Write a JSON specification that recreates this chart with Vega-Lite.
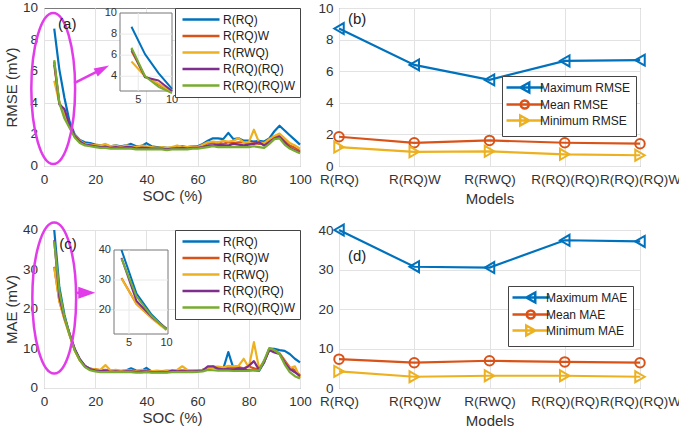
{
  "$schema": "https://vega.github.io/schema/vega-lite/v6.json",
  "padding": {"left": 3, "top": 0, "right": 0, "bottom": 0},
  "datasets": {
    "rmse": [
      {"SOC": 4, "R(RQ)": 8.7, "R(RQ)W": 6.4, "R(RWQ)": 5.4, "R(RQ)(RQ)": 6.6, "R(RQ)(RQ)W": 6.7},
      {"SOC": 6, "R(RQ)": 6.1, "R(RQ)W": 4.0, "R(RWQ)": 4.0, "R(RQ)(RQ)": 3.9, "R(RQ)(RQ)W": 4.0},
      {"SOC": 8, "R(RQ)": 4.3, "R(RQ)W": 3.2, "R(RWQ)": 3.3, "R(RQ)(RQ)": 3.6, "R(RQ)(RQ)W": 3.0},
      {"SOC": 10, "R(RQ)": 2.8, "R(RQ)W": 2.5, "R(RWQ)": 2.5, "R(RQ)(RQ)": 2.6, "R(RQ)(RQ)W": 2.4},
      {"SOC": 12, "R(RQ)": 2.0, "R(RQ)W": 1.9, "R(RWQ)": 1.95, "R(RQ)(RQ)": 1.9, "R(RQ)(RQ)W": 1.8},
      {"SOC": 14, "R(RQ)": 1.65, "R(RQ)W": 1.55, "R(RWQ)": 1.6, "R(RQ)(RQ)": 1.55, "R(RQ)(RQ)W": 1.45},
      {"SOC": 16, "R(RQ)": 1.5, "R(RQ)W": 1.4, "R(RWQ)": 1.4, "R(RQ)(RQ)": 1.35, "R(RQ)(RQ)W": 1.3},
      {"SOC": 18, "R(RQ)": 1.45, "R(RQ)W": 1.3, "R(RWQ)": 1.35, "R(RQ)(RQ)": 1.3, "R(RQ)(RQ)W": 1.25},
      {"SOC": 20, "R(RQ)": 1.35, "R(RQ)W": 1.3, "R(RWQ)": 1.3, "R(RQ)(RQ)": 1.25, "R(RQ)(RQ)W": 1.2},
      {"SOC": 22, "R(RQ)": 1.3, "R(RQ)W": 1.25, "R(RWQ)": 1.3, "R(RQ)(RQ)": 1.2, "R(RQ)(RQ)W": 1.15},
      {"SOC": 24, "R(RQ)": 1.3, "R(RQ)W": 1.35, "R(RWQ)": 1.4, "R(RQ)(RQ)": 1.2, "R(RQ)(RQ)W": 1.15},
      {"SOC": 26, "R(RQ)": 1.25, "R(RQ)W": 1.2, "R(RWQ)": 1.25, "R(RQ)(RQ)": 1.15, "R(RQ)(RQ)W": 1.1},
      {"SOC": 28, "R(RQ)": 1.3, "R(RQ)W": 1.25, "R(RWQ)": 1.3, "R(RQ)(RQ)": 1.2, "R(RQ)(RQ)W": 1.1},
      {"SOC": 30, "R(RQ)": 1.25, "R(RQ)W": 1.2, "R(RWQ)": 1.2, "R(RQ)(RQ)": 1.15, "R(RQ)(RQ)W": 1.1},
      {"SOC": 32, "R(RQ)": 1.3, "R(RQ)W": 1.25, "R(RWQ)": 1.3, "R(RQ)(RQ)": 1.2, "R(RQ)(RQ)W": 1.1},
      {"SOC": 34, "R(RQ)": 1.4, "R(RQ)W": 1.2, "R(RWQ)": 1.25, "R(RQ)(RQ)": 1.2, "R(RQ)(RQ)W": 1.1},
      {"SOC": 36, "R(RQ)": 1.25, "R(RQ)W": 1.15, "R(RWQ)": 1.2, "R(RQ)(RQ)": 1.1, "R(RQ)(RQ)W": 1.05},
      {"SOC": 38, "R(RQ)": 1.25, "R(RQ)W": 1.2, "R(RWQ)": 1.3, "R(RQ)(RQ)": 1.15, "R(RQ)(RQ)W": 1.05},
      {"SOC": 40, "R(RQ)": 1.45, "R(RQ)W": 1.2, "R(RWQ)": 1.25, "R(RQ)(RQ)": 1.15, "R(RQ)(RQ)W": 1.05},
      {"SOC": 42, "R(RQ)": 1.25, "R(RQ)W": 1.15, "R(RWQ)": 1.2, "R(RQ)(RQ)": 1.1, "R(RQ)(RQ)W": 1.05},
      {"SOC": 44, "R(RQ)": 1.2, "R(RQ)W": 1.15, "R(RWQ)": 1.15, "R(RQ)(RQ)": 1.1, "R(RQ)(RQ)W": 1.05},
      {"SOC": 46, "R(RQ)": 1.2, "R(RQ)W": 1.1, "R(RWQ)": 1.2, "R(RQ)(RQ)": 1.1, "R(RQ)(RQ)W": 1.05},
      {"SOC": 48, "R(RQ)": 1.15, "R(RQ)W": 1.1, "R(RWQ)": 1.15, "R(RQ)(RQ)": 1.05, "R(RQ)(RQ)W": 1.0},
      {"SOC": 50, "R(RQ)": 1.15, "R(RQ)W": 1.15, "R(RWQ)": 1.2, "R(RQ)(RQ)": 1.1, "R(RQ)(RQ)W": 1.05},
      {"SOC": 52, "R(RQ)": 1.2, "R(RQ)W": 1.2, "R(RWQ)": 1.3, "R(RQ)(RQ)": 1.1, "R(RQ)(RQ)W": 1.05},
      {"SOC": 54, "R(RQ)": 1.25, "R(RQ)W": 1.2, "R(RWQ)": 1.2, "R(RQ)(RQ)": 1.15, "R(RQ)(RQ)W": 1.05},
      {"SOC": 56, "R(RQ)": 1.2, "R(RQ)W": 1.15, "R(RWQ)": 1.2, "R(RQ)(RQ)": 1.1, "R(RQ)(RQ)W": 1.05},
      {"SOC": 58, "R(RQ)": 1.25, "R(RQ)W": 1.2, "R(RWQ)": 1.25, "R(RQ)(RQ)": 1.15, "R(RQ)(RQ)W": 1.1},
      {"SOC": 60, "R(RQ)": 1.25, "R(RQ)W": 1.2, "R(RWQ)": 1.2, "R(RQ)(RQ)": 1.15, "R(RQ)(RQ)W": 1.1},
      {"SOC": 62, "R(RQ)": 1.4, "R(RQ)W": 1.3, "R(RWQ)": 1.35, "R(RQ)(RQ)": 1.2, "R(RQ)(RQ)W": 1.15},
      {"SOC": 64, "R(RQ)": 1.6, "R(RQ)W": 1.45, "R(RWQ)": 1.5, "R(RQ)(RQ)": 1.3, "R(RQ)(RQ)W": 1.2},
      {"SOC": 66, "R(RQ)": 1.75, "R(RQ)W": 1.45, "R(RWQ)": 1.55, "R(RQ)(RQ)": 1.3, "R(RQ)(RQ)W": 1.25},
      {"SOC": 68, "R(RQ)": 1.75, "R(RQ)W": 1.5, "R(RWQ)": 1.5, "R(RQ)(RQ)": 1.35, "R(RQ)(RQ)W": 1.2},
      {"SOC": 70, "R(RQ)": 1.7, "R(RQ)W": 1.4, "R(RWQ)": 1.6, "R(RQ)(RQ)": 1.3, "R(RQ)(RQ)W": 1.2},
      {"SOC": 72, "R(RQ)": 2.1, "R(RQ)W": 1.5, "R(RWQ)": 1.55, "R(RQ)(RQ)": 1.3, "R(RQ)(RQ)W": 1.2},
      {"SOC": 74, "R(RQ)": 1.7, "R(RQ)W": 1.45, "R(RWQ)": 1.6, "R(RQ)(RQ)": 1.4, "R(RQ)(RQ)W": 1.2},
      {"SOC": 76, "R(RQ)": 1.75, "R(RQ)W": 1.5, "R(RWQ)": 1.75, "R(RQ)(RQ)": 1.35, "R(RQ)(RQ)W": 1.2},
      {"SOC": 78, "R(RQ)": 1.6, "R(RQ)W": 1.5, "R(RWQ)": 1.5, "R(RQ)(RQ)": 1.3, "R(RQ)(RQ)W": 1.2},
      {"SOC": 80, "R(RQ)": 1.6, "R(RQ)W": 1.4, "R(RWQ)": 1.5, "R(RQ)(RQ)": 1.35, "R(RQ)(RQ)W": 1.2},
      {"SOC": 82, "R(RQ)": 1.55, "R(RQ)W": 1.45, "R(RWQ)": 2.3, "R(RQ)(RQ)": 1.4, "R(RQ)(RQ)W": 1.25},
      {"SOC": 84, "R(RQ)": 1.6, "R(RQ)W": 1.4, "R(RWQ)": 1.5, "R(RQ)(RQ)": 1.5, "R(RQ)(RQ)W": 1.2},
      {"SOC": 86, "R(RQ)": 1.55, "R(RQ)W": 1.45, "R(RWQ)": 1.45, "R(RQ)(RQ)": 1.3, "R(RQ)(RQ)W": 1.15},
      {"SOC": 88, "R(RQ)": 1.75, "R(RQ)W": 1.6, "R(RWQ)": 1.7, "R(RQ)(RQ)": 1.5, "R(RQ)(RQ)W": 1.4},
      {"SOC": 90, "R(RQ)": 2.2, "R(RQ)W": 1.85, "R(RWQ)": 1.9, "R(RQ)(RQ)": 1.75, "R(RQ)(RQ)W": 1.7},
      {"SOC": 92, "R(RQ)": 2.55, "R(RQ)W": 1.95, "R(RWQ)": 2.05, "R(RQ)(RQ)": 1.85, "R(RQ)(RQ)W": 1.75},
      {"SOC": 94, "R(RQ)": 2.25, "R(RQ)W": 1.6, "R(RWQ)": 1.75, "R(RQ)(RQ)": 1.5, "R(RQ)(RQ)W": 1.35},
      {"SOC": 96, "R(RQ)": 1.95, "R(RQ)W": 1.3, "R(RWQ)": 1.45, "R(RQ)(RQ)": 1.15, "R(RQ)(RQ)W": 1.1},
      {"SOC": 98, "R(RQ)": 1.65, "R(RQ)W": 1.15, "R(RWQ)": 1.3, "R(RQ)(RQ)": 1.0, "R(RQ)(RQ)W": 0.95},
      {"SOC": 100, "R(RQ)": 1.35, "R(RQ)W": 0.95, "R(RWQ)": 1.1, "R(RQ)(RQ)": 0.85, "R(RQ)(RQ)W": 0.8}
    ],
    "mae": [
      {"SOC": 4, "R(RQ)": 40, "R(RQ)W": 30.7, "R(RWQ)": 30.5, "R(RQ)(RQ)": 37.4, "R(RQ)(RQ)W": 37.1},
      {"SOC": 6, "R(RQ)": 25.5, "R(RQ)W": 22, "R(RWQ)": 22, "R(RQ)(RQ)": 23, "R(RQ)(RQ)W": 24.5},
      {"SOC": 8, "R(RQ)": 18.5, "R(RQ)W": 17.5, "R(RWQ)": 17.3, "R(RQ)(RQ)": 17.8, "R(RQ)(RQ)W": 18},
      {"SOC": 10, "R(RQ)": 13.5, "R(RQ)W": 13.5, "R(RWQ)": 13.3, "R(RQ)(RQ)": 13.8, "R(RQ)(RQ)W": 13.5},
      {"SOC": 12, "R(RQ)": 9.8, "R(RQ)W": 9.6, "R(RWQ)": 9.5, "R(RQ)(RQ)": 9.9, "R(RQ)(RQ)W": 9.5},
      {"SOC": 14, "R(RQ)": 7.2, "R(RQ)W": 7.0, "R(RWQ)": 7.0, "R(RQ)(RQ)": 7.3, "R(RQ)(RQ)W": 7.0},
      {"SOC": 16, "R(RQ)": 5.6, "R(RQ)W": 5.4, "R(RWQ)": 5.5, "R(RQ)(RQ)": 5.6, "R(RQ)(RQ)W": 5.3},
      {"SOC": 18, "R(RQ)": 4.9, "R(RQ)W": 4.8, "R(RWQ)": 4.9, "R(RQ)(RQ)": 4.8, "R(RQ)(RQ)W": 4.5},
      {"SOC": 20, "R(RQ)": 4.6, "R(RQ)W": 4.8, "R(RWQ)": 4.7, "R(RQ)(RQ)": 4.5, "R(RQ)(RQ)W": 4.2},
      {"SOC": 22, "R(RQ)": 4.4, "R(RQ)W": 4.5, "R(RWQ)": 4.6, "R(RQ)(RQ)": 4.3, "R(RQ)(RQ)W": 4.0},
      {"SOC": 24, "R(RQ)": 4.4, "R(RQ)W": 4.6, "R(RWQ)": 5.8, "R(RQ)(RQ)": 4.3, "R(RQ)(RQ)W": 4.0},
      {"SOC": 26, "R(RQ)": 4.3, "R(RQ)W": 4.4, "R(RWQ)": 4.4, "R(RQ)(RQ)": 4.1, "R(RQ)(RQ)W": 4.0},
      {"SOC": 28, "R(RQ)": 4.3, "R(RQ)W": 4.5, "R(RWQ)": 4.6, "R(RQ)(RQ)": 4.2, "R(RQ)(RQ)W": 4.0},
      {"SOC": 30, "R(RQ)": 4.3, "R(RQ)W": 4.2, "R(RWQ)": 4.4, "R(RQ)(RQ)": 4.1, "R(RQ)(RQ)W": 4.0},
      {"SOC": 32, "R(RQ)": 4.4, "R(RQ)W": 4.4, "R(RWQ)": 4.5, "R(RQ)(RQ)": 4.2, "R(RQ)(RQ)W": 4.0},
      {"SOC": 34, "R(RQ)": 5.0, "R(RQ)W": 4.3, "R(RWQ)": 4.4, "R(RQ)(RQ)": 4.2, "R(RQ)(RQ)W": 4.0},
      {"SOC": 36, "R(RQ)": 4.4, "R(RQ)W": 4.3, "R(RWQ)": 4.3, "R(RQ)(RQ)": 4.1, "R(RQ)(RQ)W": 3.9},
      {"SOC": 38, "R(RQ)": 4.3, "R(RQ)W": 4.4, "R(RWQ)": 4.6, "R(RQ)(RQ)": 4.2, "R(RQ)(RQ)W": 3.9},
      {"SOC": 40, "R(RQ)": 5.1, "R(RQ)W": 4.4, "R(RWQ)": 4.3, "R(RQ)(RQ)": 4.2, "R(RQ)(RQ)W": 4.0},
      {"SOC": 42, "R(RQ)": 4.2, "R(RQ)W": 4.2, "R(RWQ)": 4.2, "R(RQ)(RQ)": 4.0, "R(RQ)(RQ)W": 3.9},
      {"SOC": 44, "R(RQ)": 4.1, "R(RQ)W": 4.3, "R(RWQ)": 4.4, "R(RQ)(RQ)": 4.0, "R(RQ)(RQ)W": 3.9},
      {"SOC": 46, "R(RQ)": 4.2, "R(RQ)W": 4.1, "R(RWQ)": 4.3, "R(RQ)(RQ)": 4.1, "R(RQ)(RQ)W": 3.9},
      {"SOC": 48, "R(RQ)": 4.1, "R(RQ)W": 4.2, "R(RWQ)": 4.5, "R(RQ)(RQ)": 4.0, "R(RQ)(RQ)W": 3.9},
      {"SOC": 50, "R(RQ)": 4.2, "R(RQ)W": 4.3, "R(RWQ)": 4.4, "R(RQ)(RQ)": 4.4, "R(RQ)(RQ)W": 4.0},
      {"SOC": 52, "R(RQ)": 4.3, "R(RQ)W": 4.4, "R(RWQ)": 4.6, "R(RQ)(RQ)": 4.2, "R(RQ)(RQ)W": 4.0},
      {"SOC": 54, "R(RQ)": 4.3, "R(RQ)W": 4.5, "R(RWQ)": 5.5, "R(RQ)(RQ)": 4.2, "R(RQ)(RQ)W": 4.0},
      {"SOC": 56, "R(RQ)": 4.3, "R(RQ)W": 4.4, "R(RWQ)": 4.6, "R(RQ)(RQ)": 4.2, "R(RQ)(RQ)W": 4.0},
      {"SOC": 58, "R(RQ)": 4.3, "R(RQ)W": 4.4, "R(RWQ)": 4.5, "R(RQ)(RQ)": 4.2, "R(RQ)(RQ)W": 4.0},
      {"SOC": 60, "R(RQ)": 4.4, "R(RQ)W": 4.4, "R(RWQ)": 4.4, "R(RQ)(RQ)": 4.3, "R(RQ)(RQ)W": 4.1},
      {"SOC": 62, "R(RQ)": 4.6, "R(RQ)W": 4.6, "R(RWQ)": 4.6, "R(RQ)(RQ)": 4.4, "R(RQ)(RQ)W": 4.2},
      {"SOC": 64, "R(RQ)": 5.1, "R(RQ)W": 5.0, "R(RWQ)": 5.0, "R(RQ)(RQ)": 5.5, "R(RQ)(RQ)W": 4.6},
      {"SOC": 66, "R(RQ)": 5.2, "R(RQ)W": 5.4, "R(RWQ)": 5.1, "R(RQ)(RQ)": 5.5, "R(RQ)(RQ)W": 4.5},
      {"SOC": 68, "R(RQ)": 4.9, "R(RQ)W": 5.3, "R(RWQ)": 5.4, "R(RQ)(RQ)": 4.9, "R(RQ)(RQ)W": 4.4},
      {"SOC": 70, "R(RQ)": 4.8, "R(RQ)W": 5.0, "R(RWQ)": 5.2, "R(RQ)(RQ)": 4.7, "R(RQ)(RQ)W": 4.4},
      {"SOC": 72, "R(RQ)": 9.1, "R(RQ)W": 5.2, "R(RWQ)": 5.6, "R(RQ)(RQ)": 4.8, "R(RQ)(RQ)W": 4.4},
      {"SOC": 74, "R(RQ)": 5.0, "R(RQ)W": 5.0, "R(RWQ)": 5.5, "R(RQ)(RQ)": 4.6, "R(RQ)(RQ)W": 4.3},
      {"SOC": 76, "R(RQ)": 4.8, "R(RQ)W": 5.3, "R(RWQ)": 5.6, "R(RQ)(RQ)": 5.0, "R(RQ)(RQ)W": 4.3},
      {"SOC": 78, "R(RQ)": 4.6, "R(RQ)W": 5.0, "R(RWQ)": 7.4, "R(RQ)(RQ)": 4.8, "R(RQ)(RQ)W": 4.3},
      {"SOC": 80, "R(RQ)": 4.5, "R(RQ)W": 5.4, "R(RWQ)": 5.2, "R(RQ)(RQ)": 5.6, "R(RQ)(RQ)W": 4.3},
      {"SOC": 82, "R(RQ)": 4.5, "R(RQ)W": 5.0, "R(RWQ)": 11.6, "R(RQ)(RQ)": 6.8, "R(RQ)(RQ)W": 4.5},
      {"SOC": 84, "R(RQ)": 4.3, "R(RQ)W": 4.6, "R(RWQ)": 5.0, "R(RQ)(RQ)": 4.6, "R(RQ)(RQ)W": 4.4},
      {"SOC": 86, "R(RQ)": 6.5, "R(RQ)W": 6.8, "R(RWQ)": 6.7, "R(RQ)(RQ)": 6.6, "R(RQ)(RQ)W": 7.0},
      {"SOC": 88, "R(RQ)": 10.0, "R(RQ)W": 9.6, "R(RWQ)": 9.8, "R(RQ)(RQ)": 9.6, "R(RQ)(RQ)W": 10.1},
      {"SOC": 90, "R(RQ)": 9.9, "R(RQ)W": 9.5, "R(RWQ)": 9.5, "R(RQ)(RQ)": 9.0, "R(RQ)(RQ)W": 9.6},
      {"SOC": 92, "R(RQ)": 9.6, "R(RQ)W": 8.8, "R(RWQ)": 8.7, "R(RQ)(RQ)": 8.6, "R(RQ)(RQ)W": 8.6},
      {"SOC": 94, "R(RQ)": 9.4, "R(RQ)W": 7.0, "R(RWQ)": 6.5, "R(RQ)(RQ)": 6.5, "R(RQ)(RQ)W": 6.0},
      {"SOC": 96, "R(RQ)": 8.6, "R(RQ)W": 5.2, "R(RWQ)": 5.0, "R(RQ)(RQ)": 4.8, "R(RQ)(RQ)W": 4.0},
      {"SOC": 98, "R(RQ)": 7.4, "R(RQ)W": 4.5, "R(RWQ)": 5.5, "R(RQ)(RQ)": 4.0, "R(RQ)(RQ)W": 3.0},
      {"SOC": 100, "R(RQ)": 6.5, "R(RQ)W": 3.2, "R(RWQ)": 2.6, "R(RQ)(RQ)": 3.0, "R(RQ)(RQ)W": 2.4}
    ],
    "rmseStats": [
      {"model": "R(RQ)", "stat": "Maximum RMSE", "value": 8.7},
      {"model": "R(RQ)W", "stat": "Maximum RMSE", "value": 6.4},
      {"model": "R(RWQ)", "stat": "Maximum RMSE", "value": 5.45},
      {"model": "R(RQ)(RQ)", "stat": "Maximum RMSE", "value": 6.65},
      {"model": "R(RQ)(RQ)W", "stat": "Maximum RMSE", "value": 6.7},
      {"model": "R(RQ)", "stat": "Mean RMSE", "value": 1.85},
      {"model": "R(RQ)W", "stat": "Mean RMSE", "value": 1.47},
      {"model": "R(RWQ)", "stat": "Mean RMSE", "value": 1.62},
      {"model": "R(RQ)(RQ)", "stat": "Mean RMSE", "value": 1.47},
      {"model": "R(RQ)(RQ)W", "stat": "Mean RMSE", "value": 1.41},
      {"model": "R(RQ)", "stat": "Minimum RMSE", "value": 1.2},
      {"model": "R(RQ)W", "stat": "Minimum RMSE", "value": 0.9},
      {"model": "R(RWQ)", "stat": "Minimum RMSE", "value": 0.93},
      {"model": "R(RQ)(RQ)", "stat": "Minimum RMSE", "value": 0.74},
      {"model": "R(RQ)(RQ)W", "stat": "Minimum RMSE", "value": 0.68}
    ],
    "maeStats": [
      {"model": "R(RQ)", "stat": "Maximum MAE", "value": 40},
      {"model": "R(RQ)W", "stat": "Maximum MAE", "value": 30.7},
      {"model": "R(RWQ)", "stat": "Maximum MAE", "value": 30.5},
      {"model": "R(RQ)(RQ)", "stat": "Maximum MAE", "value": 37.4},
      {"model": "R(RQ)(RQ)W", "stat": "Maximum MAE", "value": 37.1},
      {"model": "R(RQ)", "stat": "Mean MAE", "value": 7.3},
      {"model": "R(RQ)W", "stat": "Mean MAE", "value": 6.4},
      {"model": "R(RWQ)", "stat": "Mean MAE", "value": 6.9},
      {"model": "R(RQ)(RQ)", "stat": "Mean MAE", "value": 6.6},
      {"model": "R(RQ)(RQ)W", "stat": "Mean MAE", "value": 6.4},
      {"model": "R(RQ)", "stat": "Minimum MAE", "value": 4.2},
      {"model": "R(RQ)W", "stat": "Minimum MAE", "value": 2.85},
      {"model": "R(RWQ)", "stat": "Minimum MAE", "value": 3.1},
      {"model": "R(RQ)(RQ)", "stat": "Minimum MAE", "value": 3.1},
      {"model": "R(RQ)(RQ)W", "stat": "Minimum MAE", "value": 2.85}
    ]
  },
  "columns": 2,
  "spacing": {"row": 64, "column": 39},
  "bounds": "flush",
  "resolve": {"scale": {"color": "independent", "shape": "independent"}, "legend": {"color": "independent", "shape": "independent"}},
  "concat": [
    {
      "width": 256,
      "height": 158,
      "resolve": {"scale": {"x": "independent", "y": "independent"}, "axis": {"x": "independent", "y": "independent"}},
      "layer": [
        {
          "layer": [
            {
              "data": {"name": "rmse"},
              "transform": [{"fold": ["R(RQ)", "R(RQ)W", "R(RWQ)", "R(RQ)(RQ)", "R(RQ)(RQ)W"], "as": ["model", "RMSE"]}],
              "mark": {"type": "line", "strokeWidth": 2.2, "strokeJoin": "round"},
              "encoding": {
                "x": {"field": "SOC", "type": "quantitative", "scale": {"domain": [0, 100], "nice": false}, "axis": {"title": "SOC (%)", "values": [0, 20, 40, 60, 80, 100], "grid": true}},
                "y": {"field": "RMSE", "type": "quantitative", "scale": {"domain": [0, 10], "nice": false}, "axis": {"title": "RMSE (mV)", "values": [0, 2, 4, 6, 8, 10], "grid": true, "labels": false, "titlePadding": 25}},
                "color": {
                  "field": "model", "type": "nominal",
                  "scale": {"domain": ["R(RQ)", "R(RQ)W", "R(RWQ)", "R(RQ)(RQ)", "R(RQ)(RQ)W"], "range": ["#0072BD", "#D95319", "#EDB120", "#7E2F8E", "#77AC30"]},
                  "legend": {"title": null, "orient": "top-right", "offset": 0, "symbolType": "M-0.8,0L6.6,0"}
                }
              }
            },
            {
              "data": {"values": [{"tick": 0}, {"tick": 2}, {"tick": 4}, {"tick": 6}, {"tick": 8}, {"tick": 10}]},
              "mark": {"type": "text", "fontSize": 13.5, "fill": "#333", "align": "right", "baseline": "middle", "dx": -6},
              "encoding": {"x": {"datum": 0, "type": "quantitative"}, "y": {"field": "tick", "type": "quantitative"}, "text": {"field": "tick"}}
            },
            {
              "data": {"values": [{"SOC": 3.6, "RMSE": 4.9}]},
              "mark": {"type": "point", "shape": "M0,-1C0.16,-1,0.29,-0.552,0.29,0C0.29,0.552,0.16,1,0,1C-0.16,1,-0.29,0.552,-0.29,0C-0.29,-0.552,-0.16,-1,0,-1Z", "size": 22801, "filled": false, "stroke": "#E23BEA", "strokeWidth": 2.5, "opacity": 1},
              "encoding": {"x": {"field": "SOC", "type": "quantitative"}, "y": {"field": "RMSE", "type": "quantitative"}}
            },
            {
              "data": {"values": [{"SOC": 11.8, "RMSE": 5.25, "SOC2": 22.8, "RMSE2": 6.14}]},
              "mark": {"type": "rule", "stroke": "#E23BEA", "strokeWidth": 2.5},
              "encoding": {"x": {"field": "SOC", "type": "quantitative"}, "y": {"field": "RMSE", "type": "quantitative"}, "x2": {"field": "SOC2"}, "y2": {"field": "RMSE2"}}
            },
            {
              "data": {"values": [{"SOC": 22.8, "RMSE": 6.14}]},
              "mark": {"type": "point", "shape": "M1,0L-1,-0.6L-1,0.6Z", "size": 225, "filled": true, "fill": "#E23BEA", "strokeWidth": 0, "angle": -27, "opacity": 1},
              "encoding": {"x": {"field": "SOC", "type": "quantitative"}, "y": {"field": "RMSE", "type": "quantitative"}}
            },
            {
              "data": {"values": [{"SOC": 9.1, "RMSE": 9.0, "tag": "(a)"}]},
              "mark": {"type": "text", "fontSize": 15, "fill": "#222"},
              "encoding": {"x": {"field": "SOC", "type": "quantitative"}, "y": {"field": "RMSE", "type": "quantitative"}, "text": {"field": "tag"}}
            }
          ]
        },
        {
          "layer": [
            {
              "data": {"values": [{"x1": 2.3, "x2": 10, "y1": 2.6, "y2": 10}]},
              "mark": {"type": "rect", "fill": "white", "stroke": "#777", "strokeWidth": 1},
              "encoding": {
                "x": {"field": "x1", "type": "quantitative", "scale": {"domain": [2.3, 10], "range": [76, 128], "nice": false, "zero": false}, "axis": null},
                "x2": {"field": "x2"},
                "y": {"field": "y1", "type": "quantitative", "scale": {"domain": [2.6, 10], "range": [83, 5], "nice": false, "zero": false}, "axis": null},
                "y2": {"field": "y2"}
              }
            },
            {
              "data": {"values": [{"x1": 5, "y1": 2.6, "x2": 5, "y2": 10}, {"x1": 2.3, "y1": 4, "x2": 10, "y2": 4}, {"x1": 2.3, "y1": 6, "x2": 10, "y2": 6}, {"x1": 2.3, "y1": 8, "x2": 10, "y2": 8}]},
              "mark": {"type": "rule", "stroke": "#e8e8e8", "strokeWidth": 1},
              "encoding": {"x": {"field": "x1", "type": "quantitative"}, "y": {"field": "y1", "type": "quantitative"}, "x2": {"field": "x2"}, "y2": {"field": "y2"}}
            },
            {
              "data": {"name": "rmse"},
              "transform": [{"filter": "datum.SOC <= 10"}, {"fold": ["R(RQ)", "R(RQ)W", "R(RWQ)", "R(RQ)(RQ)", "R(RQ)(RQ)W"], "as": ["model", "RMSE"]}],
              "mark": {"type": "line", "strokeWidth": 2, "strokeJoin": "round"},
              "encoding": {
                "x": {"field": "SOC", "type": "quantitative"},
                "y": {"field": "RMSE", "type": "quantitative"},
                "color": {"field": "model", "type": "nominal"}
              }
            },
            {
              "data": {"values": [{"v": 4}, {"v": 6}, {"v": 8}, {"v": 10}]},
              "mark": {"type": "text", "fontSize": 11, "fill": "#333", "align": "right", "baseline": "middle", "dx": -3},
              "encoding": {"x": {"datum": 2.3, "type": "quantitative"}, "y": {"field": "v", "type": "quantitative"}, "text": {"field": "v"}}
            },
            {
              "data": {"values": [{"s": 5}, {"s": 10}]},
              "mark": {"type": "text", "fontSize": 11, "fill": "#333", "align": "center", "baseline": "top", "dy": 3},
              "encoding": {"x": {"field": "s", "type": "quantitative"}, "y": {"datum": 2.6, "type": "quantitative"}, "text": {"field": "s"}}
            }
          ]
        }
      ]
    },
    {
      "width": 301,
      "height": 158,
      "data": {"name": "rmseStats"},
      "encoding": {
        "x": {"field": "model", "type": "nominal", "sort": null, "scale": {"type": "point", "padding": 0, "domain": ["R(RQ)", "R(RQ)W", "R(RWQ)", "R(RQ)(RQ)", "R(RQ)(RQ)W"]}, "axis": {"title": "Models", "labelAngle": 0, "grid": true, "labelBound": false, "labelOverlap": false, "titlePadding": 6}},
        "y": {"field": "value", "type": "quantitative", "scale": {"domain": [0, 10], "nice": false}, "axis": {"title": null, "values": [0, 2, 4, 6, 8, 10], "grid": true, "labelOverlap": false}}
      },
      "layer": [
        {
          "mark": {"type": "line", "strokeWidth": 2.2},
          "encoding": {
            "color": {
              "field": "stat", "type": "nominal",
              "scale": {"domain": ["Maximum RMSE", "Mean RMSE", "Minimum RMSE"], "range": ["#0072BD", "#D95319", "#EDB120"]},
              "legend": {"title": null, "orient": "none", "legendX": 163, "legendY": 68, "rowPadding": -4, "labelOffset": 20}
            }
          }
        },
        {
          "transform": [{"filter": "datum.stat == 'Maximum RMSE'"}],
          "mark": {"type": "point", "shape": "triangle-left", "filled": false, "strokeWidth": 2, "opacity": 1, "size": 120},
          "encoding": {"color": {"field": "stat", "type": "nominal"}}
        },
        {
          "transform": [{"filter": "datum.stat == 'Mean RMSE'"}],
          "mark": {"type": "point", "shape": "circle", "filled": false, "strokeWidth": 2, "opacity": 1, "size": 90},
          "encoding": {"color": {"field": "stat", "type": "nominal"}}
        },
        {
          "transform": [{"filter": "datum.stat == 'Minimum RMSE'"}],
          "mark": {"type": "point", "shape": "triangle-right", "filled": false, "strokeWidth": 2, "opacity": 1, "size": 120},
          "encoding": {"color": {"field": "stat", "type": "nominal"}}
        },
        {
          "mark": {"type": "point", "filled": false, "opacity": 0},
          "encoding": {
            "color": {"field": "stat", "type": "nominal"},
            "shape": {"field": "stat", "type": "nominal", "scale": {"domain": ["Maximum RMSE", "Mean RMSE", "Minimum RMSE"], "range": ["M-1.4,0L5.9,0M1.35,0L3.15,-1L3.15,1Z", "M-1.4,0L5.9,0M3.05,0C3.05,0.44,2.69,0.8,2.25,0.8C1.81,0.8,1.45,0.44,1.45,0C1.45,-0.44,1.81,-0.8,2.25,-0.8C2.69,-0.8,3.05,-0.44,3.05,0Z", "M-1.4,0L5.9,0M3.15,0L1.35,-1L1.35,1Z"]}}
          }
        },
        {
          "data": {"values": [{"model": "R(RQ)", "value": 9.3, "tag": "(b)"}]},
          "mark": {"type": "text", "fontSize": 15, "fill": "#222", "align": "left", "dx": 9},
          "encoding": {"text": {"field": "tag"}}
        }
      ]
    },
    {
      "width": 256,
      "height": 158,
      "resolve": {"scale": {"x": "independent", "y": "independent"}, "axis": {"x": "independent", "y": "independent"}},
      "layer": [
        {
          "layer": [
            {
              "data": {"name": "mae"},
              "transform": [{"fold": ["R(RQ)", "R(RQ)W", "R(RWQ)", "R(RQ)(RQ)", "R(RQ)(RQ)W"], "as": ["model", "MAE"]}],
              "mark": {"type": "line", "strokeWidth": 2.2, "strokeJoin": "round"},
              "encoding": {
                "x": {"field": "SOC", "type": "quantitative", "scale": {"domain": [0, 100], "nice": false}, "axis": {"title": "SOC (%)", "values": [0, 20, 40, 60, 80, 100], "grid": true}},
                "y": {"field": "MAE", "type": "quantitative", "scale": {"domain": [0, 40], "nice": false}, "axis": {"title": "MAE (mV)", "values": [0, 10, 20, 30, 40], "grid": true, "labels": false, "titlePadding": 25}},
                "color": {
                  "field": "model", "type": "nominal",
                  "scale": {"domain": ["R(RQ)", "R(RQ)W", "R(RWQ)", "R(RQ)(RQ)", "R(RQ)(RQ)W"], "range": ["#0072BD", "#D95319", "#EDB120", "#7E2F8E", "#77AC30"]},
                  "legend": {"title": null, "orient": "top-right", "offset": 0, "symbolType": "M-0.8,0L6.6,0"}
                }
              }
            },
            {
              "data": {"values": [{"tick": 0}, {"tick": 10}, {"tick": 20}, {"tick": 30}, {"tick": 40}]},
              "mark": {"type": "text", "fontSize": 13.5, "fill": "#333", "align": "right", "baseline": "middle", "dx": -6},
              "encoding": {"x": {"datum": 0, "type": "quantitative"}, "y": {"field": "tick", "type": "quantitative"}, "text": {"field": "tick"}}
            },
            {
              "data": {"values": [{"SOC": 4.0, "MAE": 22.8}]},
              "mark": {"type": "point", "shape": "M0,-1C0.16,-1,0.29,-0.552,0.29,0C0.29,0.552,0.16,1,0,1C-0.16,1,-0.29,0.552,-0.29,0C-0.29,-0.552,-0.16,-1,0,-1Z", "size": 22801, "filled": false, "stroke": "#E23BEA", "strokeWidth": 2.5, "opacity": 1},
              "encoding": {"x": {"field": "SOC", "type": "quantitative"}, "y": {"field": "MAE", "type": "quantitative"}}
            },
            {
              "data": {"values": [{"SOC": 12.2, "MAE": 24.1, "SOC2": 16.7, "MAE2": 24.1}]},
              "mark": {"type": "rule", "stroke": "#E23BEA", "strokeWidth": 2.5},
              "encoding": {"x": {"field": "SOC", "type": "quantitative"}, "y": {"field": "MAE", "type": "quantitative"}, "x2": {"field": "SOC2"}, "y2": {"field": "MAE2"}}
            },
            {
              "data": {"values": [{"SOC": 16.7, "MAE": 24.1}]},
              "mark": {"type": "point", "shape": "M1,0L-1,-0.7L-1,0.7Z", "size": 289, "filled": true, "fill": "#E23BEA", "strokeWidth": 0, "opacity": 1},
              "encoding": {"x": {"field": "SOC", "type": "quantitative"}, "y": {"field": "MAE", "type": "quantitative"}}
            },
            {
              "data": {"values": [{"SOC": 9.4, "MAE": 36.5, "tag": "(c)"}]},
              "mark": {"type": "text", "fontSize": 15, "fill": "#222"},
              "encoding": {"x": {"field": "SOC", "type": "quantitative"}, "y": {"field": "MAE", "type": "quantitative"}, "text": {"field": "tag"}}
            }
          ]
        },
        {
          "layer": [
            {
              "data": {"values": [{"x1": 3, "x2": 10.2, "y1": 12, "y2": 40}]},
              "mark": {"type": "rect", "fill": "white", "stroke": "#777", "strokeWidth": 1},
              "encoding": {
                "x": {"field": "x1", "type": "quantitative", "scale": {"domain": [3, 10.2], "range": [70, 124], "nice": false, "zero": false}, "axis": null},
                "x2": {"field": "x2"},
                "y": {"field": "y1", "type": "quantitative", "scale": {"domain": [12, 40], "range": [104, 20], "nice": false, "zero": false}, "axis": null},
                "y2": {"field": "y2"}
              }
            },
            {
              "data": {"values": [{"x1": 5, "y1": 12, "x2": 5, "y2": 40}, {"x1": 3, "y1": 20, "x2": 10.2, "y2": 20}, {"x1": 3, "y1": 30, "x2": 10.2, "y2": 30}]},
              "mark": {"type": "rule", "stroke": "#e8e8e8", "strokeWidth": 1},
              "encoding": {"x": {"field": "x1", "type": "quantitative"}, "y": {"field": "y1", "type": "quantitative"}, "x2": {"field": "x2"}, "y2": {"field": "y2"}}
            },
            {
              "data": {"name": "mae"},
              "transform": [{"filter": "datum.SOC <= 10"}, {"fold": ["R(RQ)", "R(RQ)W", "R(RWQ)", "R(RQ)(RQ)", "R(RQ)(RQ)W"], "as": ["model", "MAE"]}],
              "mark": {"type": "line", "strokeWidth": 2, "strokeJoin": "round"},
              "encoding": {
                "x": {"field": "SOC", "type": "quantitative"},
                "y": {"field": "MAE", "type": "quantitative"},
                "color": {"field": "model", "type": "nominal"}
              }
            },
            {
              "data": {"values": [{"v": 20}, {"v": 30}, {"v": 40}]},
              "mark": {"type": "text", "fontSize": 11, "fill": "#333", "align": "right", "baseline": "middle", "dx": -3},
              "encoding": {"x": {"datum": 3, "type": "quantitative"}, "y": {"field": "v", "type": "quantitative"}, "text": {"field": "v"}}
            },
            {
              "data": {"values": [{"s": 5}, {"s": 10}]},
              "mark": {"type": "text", "fontSize": 11, "fill": "#333", "align": "center", "baseline": "top", "dy": 3},
              "encoding": {"x": {"field": "s", "type": "quantitative"}, "y": {"datum": 12, "type": "quantitative"}, "text": {"field": "s"}}
            }
          ]
        }
      ]
    },
    {
      "width": 301,
      "height": 158,
      "data": {"name": "maeStats"},
      "encoding": {
        "x": {"field": "model", "type": "nominal", "sort": null, "scale": {"type": "point", "padding": 0, "domain": ["R(RQ)", "R(RQ)W", "R(RWQ)", "R(RQ)(RQ)", "R(RQ)(RQ)W"]}, "axis": {"title": "Models", "labelAngle": 0, "grid": true, "labelBound": false, "labelOverlap": false, "titlePadding": 6}},
        "y": {"field": "value", "type": "quantitative", "scale": {"domain": [0, 40], "nice": false}, "axis": {"title": null, "values": [0, 10, 20, 30, 40], "grid": true, "labelOverlap": false}}
      },
      "layer": [
        {
          "mark": {"type": "line", "strokeWidth": 2.2},
          "encoding": {
            "color": {
              "field": "stat", "type": "nominal",
              "scale": {"domain": ["Maximum MAE", "Mean MAE", "Minimum MAE"], "range": ["#0072BD", "#D95319", "#EDB120"]},
              "legend": {"title": null, "orient": "none", "legendX": 169, "legendY": 56, "rowPadding": -4, "labelOffset": 20}
            }
          }
        },
        {
          "transform": [{"filter": "datum.stat == 'Maximum MAE'"}],
          "mark": {"type": "point", "shape": "triangle-left", "filled": false, "strokeWidth": 2, "opacity": 1, "size": 120},
          "encoding": {"color": {"field": "stat", "type": "nominal"}}
        },
        {
          "transform": [{"filter": "datum.stat == 'Mean MAE'"}],
          "mark": {"type": "point", "shape": "circle", "filled": false, "strokeWidth": 2, "opacity": 1, "size": 90},
          "encoding": {"color": {"field": "stat", "type": "nominal"}}
        },
        {
          "transform": [{"filter": "datum.stat == 'Minimum MAE'"}],
          "mark": {"type": "point", "shape": "triangle-right", "filled": false, "strokeWidth": 2, "opacity": 1, "size": 120},
          "encoding": {"color": {"field": "stat", "type": "nominal"}}
        },
        {
          "mark": {"type": "point", "filled": false, "opacity": 0},
          "encoding": {
            "color": {"field": "stat", "type": "nominal"},
            "shape": {"field": "stat", "type": "nominal", "scale": {"domain": ["Maximum MAE", "Mean MAE", "Minimum MAE"], "range": ["M-1.4,0L5.9,0M1.35,0L3.15,-1L3.15,1Z", "M-1.4,0L5.9,0M3.05,0C3.05,0.44,2.69,0.8,2.25,0.8C1.81,0.8,1.45,0.44,1.45,0C1.45,-0.44,1.81,-0.8,2.25,-0.8C2.69,-0.8,3.05,-0.44,3.05,0Z", "M-1.4,0L5.9,0M3.15,0L1.35,-1L1.35,1Z"]}}
          }
        },
        {
          "data": {"values": [{"model": "R(RQ)", "value": 33.5, "tag": "(d)"}]},
          "mark": {"type": "text", "fontSize": 15, "fill": "#222", "align": "left", "dx": 9},
          "encoding": {"text": {"field": "tag"}}
        }
      ]
    }
  ],
  "config": {
    "font": "Liberation Sans",
    "view": {"stroke": "#7a7a7a", "strokeWidth": 1},
    "axis": {"labelFontSize": 13.5, "titleFontSize": 15, "titleFontWeight": "normal", "labelColor": "#333", "titleColor": "#333", "domain": false, "ticks": false, "gridColor": "#e2e2e2", "labelPadding": 6, "labelOverlap": false},
    "axisX": {"labelFlush": false, "titlePadding": 3},
    "axisY": {"titlePadding": 6},
    "legend": {"labelFontSize": 12, "labelColor": "#222", "symbolSize": 100, "symbolStrokeWidth": 2.5, "symbolOpacity": 1, "symbolFillColor": "transparent", "rowPadding": 3.5, "padding": 5, "strokeColor": "#444", "fillColor": "white", "labelOffset": 30, "cornerRadius": 0}
  }
}
